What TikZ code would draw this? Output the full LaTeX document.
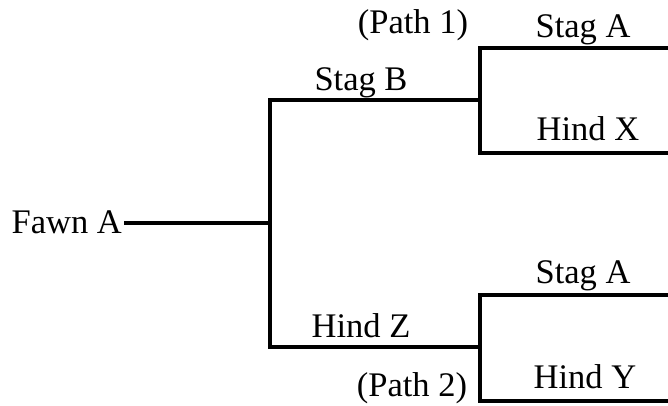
\documentclass[tikz,border=0pt]{standalone}
\usepackage{fontspec}
\setmainfont{Liberation Serif}
\begin{document}
\begin{tikzpicture}[x=1pt,y=-1pt,
  lbl/.style={font=\fontsize{34.5}{38}\selectfont, inner sep=0pt, anchor=base},
  wire/.style={line width=3.2pt, line cap=rect, line join=miter}]
\useasboundingbox (0,0) rectangle (668,405);
% labels
\node[lbl, anchor=base east] (fawn) at (122,233) {Fawn A};
\node[lbl] (stagB) at (361,90) {Stag B};
\node[lbl] (hindZ) at (361,337) {Hind Z};
\node[lbl] (path1) at (413,33) {(Path 1)};
\node[lbl] (path2) at (412,396) {(Path 2)};
\node[lbl] (stagA1) at (583,37) {Stag A};
\node[lbl] (hindX) at (588,140) {Hind X};
\node[lbl] (stagA2) at (583,283) {Stag A};
\node[lbl] (hindY) at (585,388) {Hind Y};
% junctions
\coordinate (j0) at (270,223);
\coordinate (jB) at (480,100);
\coordinate (jZ) at (480,347);
\coordinate (eA1) at (668,48);
\coordinate (eX) at (668,153);
\coordinate (eA2) at (668,295);
\coordinate (eY) at (668,401);
% connectors
\draw[wire] (fawn.east |- j0) ++(4,0) -- (j0);
\draw[wire] (jB) -- (jB -| j0) -- (jZ -| j0) -- (jZ);
\draw[wire] (eA1) -- (eA1 -| jB) -- (eX -| jB) -- (eX);
\draw[wire] (eA2) -- (eA2 -| jZ) -- (eY -| jZ) -- (eY);
\end{tikzpicture}
\end{document}
